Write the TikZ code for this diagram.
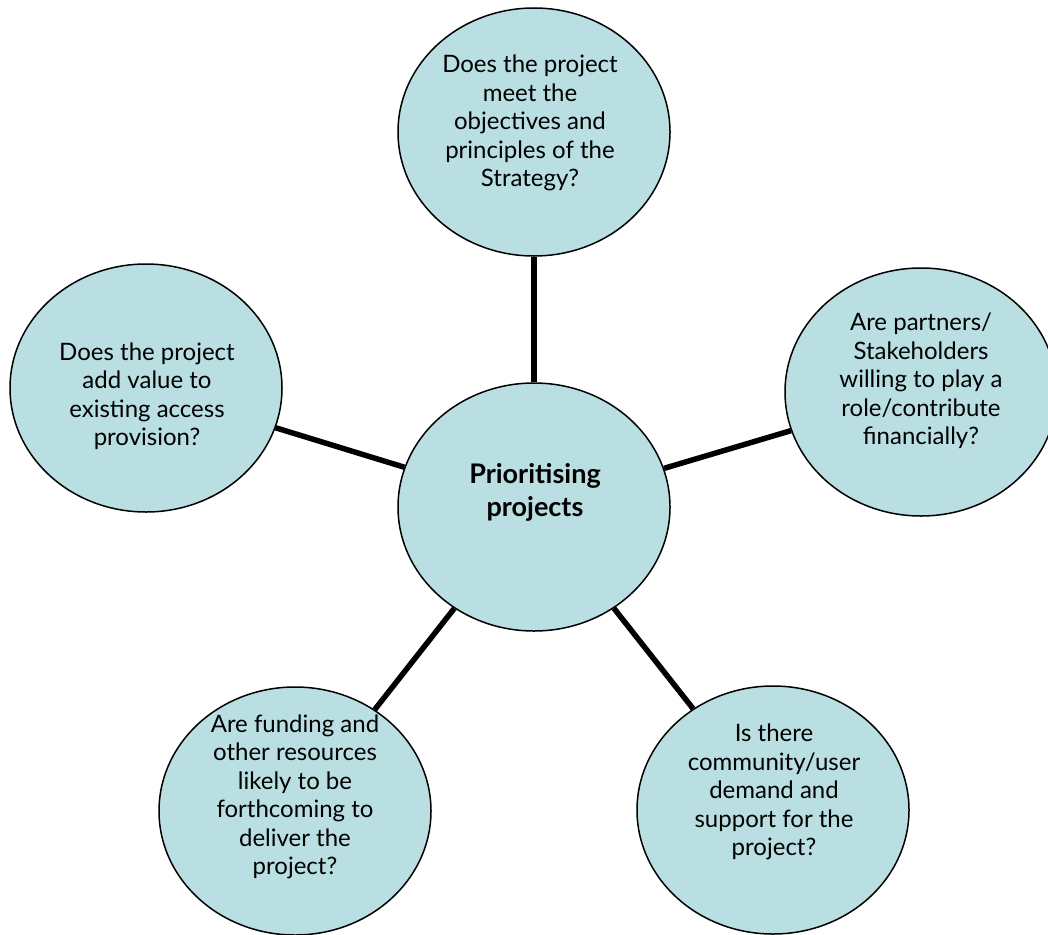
\documentclass[tikz,border=0pt]{standalone}
\usepackage{fontspec}
\setmainfont{Lato}
\usetikzlibrary{shapes.geometric}
\definecolor{bubblefill}{RGB}{186,223,227}
\tikzstyle{bubble}=[ellipse,draw=black,line width=1.5pt,fill=bubblefill,minimum width=272pt,minimum height=248pt,inner sep=0pt]
\tikzstyle{spoke}=[line width=5.5pt,draw=black]
\tikzstyle{question}=[align=center,inner sep=0pt,font=\fontsize{24}{28.5}\selectfont]

\begin{document}
\begin{tikzpicture}[x=1pt,y=-1pt]
    \useasboundingbox (0,0) rectangle (1048,934);
    \node (hub) [bubble] at (534,507) {};
    \node (top) [bubble] at (534,132) {};
    \node (right) [bubble] at (921,392) {};
    \node (left) [bubble] at (146,388) {};
    \node (botleft) [bubble] at (295,811) {};
    \node (botright) [bubble] at (773,810) {};

    \path[spoke] (hub) edge (top);
    \path[spoke] (hub) edge (right);
    \path[spoke] (hub) edge (left);
    \path[spoke] (hub) edge (botleft);
    \path[spoke] (hub) edge (botright);

    \node (hubtext) [question,font=\bfseries\fontsize{27}{33}\selectfont] at (535,492) {Prioritising\\projects};
    \node (toptext) [question] at (530,123) {Does the project\\meet the\\objectives and\\principles of the\\Strategy?};
    \node (righttext) [question] at (921,381) {Are partners/\\Stakeholders\\willing to play a\\role/contribute\\financially?};
    \node (lefttext) [question] at (147,396) {Does the project\\add value to\\existing access\\provision?};
    \node (botlefttext) [question] at (295,797) {Are funding and\\other resources\\likely to be\\forthcoming to\\deliver the\\project?};
    \node (botrighttext) [question] at (774,792) {Is there\\community/user\\demand and\\support for the\\project?};
\end{tikzpicture}
\end{document}
